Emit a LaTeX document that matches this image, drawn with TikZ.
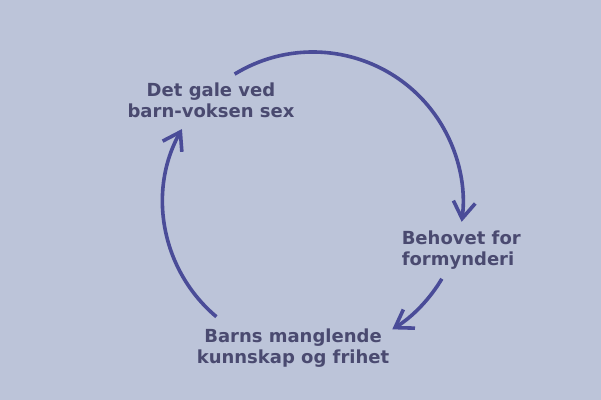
\documentclass[tikz,border=0pt]{standalone}
\usepackage{fontspec}
\setmainfont{DejaVu Sans}
\usetikzlibrary{arrows.meta}
\definecolor{bgblue}{HTML}{BCC4D9}
\definecolor{cycleblue}{HTML}{4A4C98}
\definecolor{txtslate}{HTML}{4A4A70}
\begin{document}
\begin{tikzpicture}[x=0.75pt, y=-0.75pt,
  cyc/.style={draw=cycleblue, line width=2.7pt, -{Straight Barb[length=12.5pt, width=16.5pt]}},
  lbl/.style={text=txtslate, font=\fontsize{13.5}{15.75}\selectfont\bfseries, inner sep=0pt}]
\fill[bgblue] (0,0) rectangle (601,400);
\coordinate (hub) at (313,202);
\node[lbl, align=center] (harm) at (211,100) {Det gale ved\\barn-voksen sex};
\node[lbl, align=left, anchor=west] (need) at (401.5,250) {Behovet for\\formynderi};
\node[lbl, align=center] (lack) at (293,348) {Barns manglende\\kunnskap og frihet};
% the cycle, all on one circle round hub
\draw[cyc] ([shift={(-121.5:150)}]hub) arc[start angle=-121.5, end angle=7.6, radius=150];
\draw[cyc] ([shift={(30.8:150)}]hub) arc[start angle=30.8, end angle=58.1, radius=150];
\draw[cyc] ([shift={(130.1:150)}]hub) arc[start angle=130.1, end angle=209.1, radius=150];
\end{tikzpicture}
\end{document}
